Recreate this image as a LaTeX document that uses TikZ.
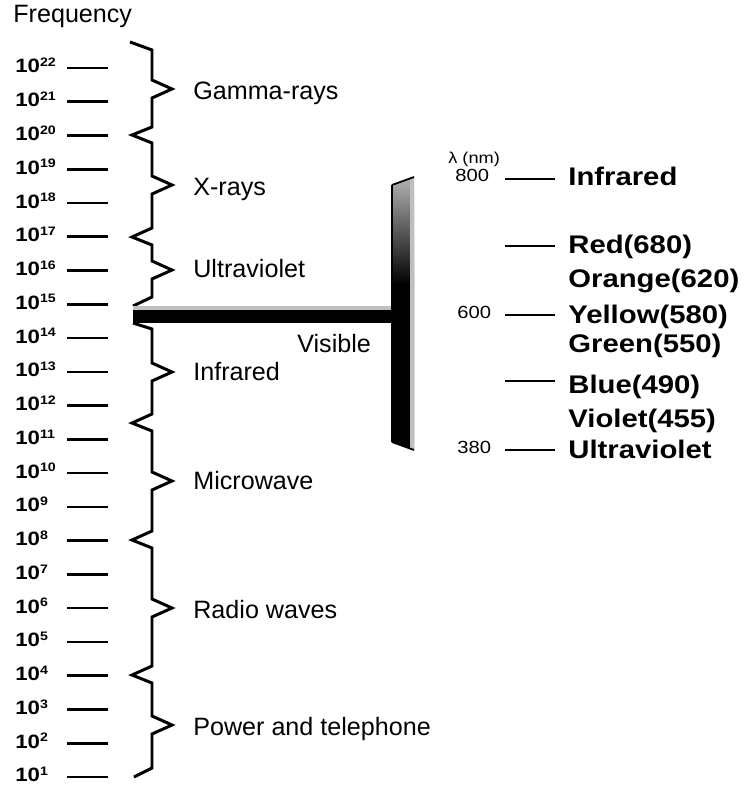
\documentclass[tikz,border=0pt]{standalone}
\usepackage{fontspec}
\setmainfont{Liberation Sans}
\newfontfamily\widesans[FakeStretch=1.15]{Liberation Sans}

\begin{document}
\begin{tikzpicture}[
  x=0.02cm, y=-0.02cm,
  band/.style={font=\fontsize{14.3}{17}\selectfont, anchor=base west, inner sep=0pt},
  expo/.style={font=\widesans\bfseries\fontsize{11}{13}\selectfont, anchor=base west, inner sep=0pt},
  wave/.style={font=\widesans\fontsize{10}{12}\selectfont, anchor=base west, inner sep=0pt},
  hue/.style={font=\widesans\bfseries\fontsize{14.5}{17}\selectfont, anchor=base west, inner sep=0pt},
  tickmark/.style={line width=1.5pt},
  zigzag/.style={line width=1.7pt, line join=miter},
  wl/.style={line width=1.2pt}
]
\useasboundingbox (0,0) rectangle (745,787);

\node[band] (freq) at (13,23) {Frequency};

% frequency scale
\foreach \e [count=\i from 0] in {22,21,...,1} {
  \node[expo] (p\e) at (15,{73+\i*33.76}) {10\raisebox{3.6pt}{\fontsize{7}{8}\selectfont\e}};
  \draw[tickmark] (67,{68+\i*33.76}) -- (108,{68+\i*33.76});
}

% band brace
\draw[zigzag] (130,42) -- (152,50) -- (152,80) -- (172,89) -- (152,98)
  -- (152,127) -- (132,135) -- (152,143) -- (152,176) -- (172,185) -- (152,194)
  -- (152,228) -- (132,237) -- (152,245) -- (152,261) -- (172,270) -- (152,279)
  -- (152,297) -- (133,306);
\draw[zigzag] (133,323) -- (152,329) -- (152,363) -- (172,372) -- (152,381)
  -- (152,414) -- (132,423) -- (152,431) -- (152,472) -- (172,481) -- (152,490)
  -- (152,531) -- (132,540) -- (152,548) -- (152,599) -- (172,608) -- (152,617)
  -- (152,666) -- (132,675) -- (152,683) -- (152,716) -- (172,725) -- (152,734)
  -- (152,768) -- (134,777);

\node[band] (gamma) at (193,100) {Gamma-rays};
\node[band] (xray) at (193,195) {X-rays};
\node[band] (uv) at (193,277) {Ultraviolet};
\node[band] (ir) at (193,380) {Infrared};
\node[band] (micro) at (193,489) {Microwave};
\node[band] (radio) at (193,618) {Radio waves};
\node[band] (power) at (193,735) {Power and telephone};

% visible band
\fill[gray!50] (133,306) rectangle (393,310);
\fill[black] (133,310) rectangle (393,323);
\shade[top color=gray!60, bottom color=black] (392,185) -- (414,177) -- (414,285) -- (392,285) -- cycle;
\fill[black] (392,284) -- (414,284) -- (414,450) -- (392,442) -- cycle;
\fill[gray!50] (410,178.5) -- (414,177) -- (414,450) -- (410,448.5) -- cycle;
\draw[line width=1.4pt] (392,185) -- (392,442);
\draw[line width=1pt] (392,185) -- (414,177);
\draw[line width=1pt] (392,442) -- (414,450);
\node[band] (vis) at (297,352) {Visible};

% wavelengths
\node[wave, font=\widesans\fontsize{9}{10}\selectfont] (lam) at (448,164) {λ (nm)};
\node[wave] (n800) at (455,182) {800};
\node[wave] (n600) at (457,318) {600};
\node[wave] (n380) at (457,453) {380};
\foreach \y in {179,246,315,381,450}
  \draw[wl] (505,\y) -- (555,\y);

\node[hue] (cir) at (568,186) {Infrared};
\node[hue] (cred) at (568,253) {Red(680)};
\node[hue] (corange) at (568,287) {Orange(620)};
\node[hue] (cyellow) at (568,323) {Yellow(580)};
\node[hue] (cgreen) at (568,352) {Green(550)};
\node[hue] (cblue) at (568,393) {Blue(490)};
\node[hue] (cviolet) at (568,427) {Violet(455)};
\node[hue] (cuv) at (568,458) {Ultraviolet};
\end{tikzpicture}
\end{document}
